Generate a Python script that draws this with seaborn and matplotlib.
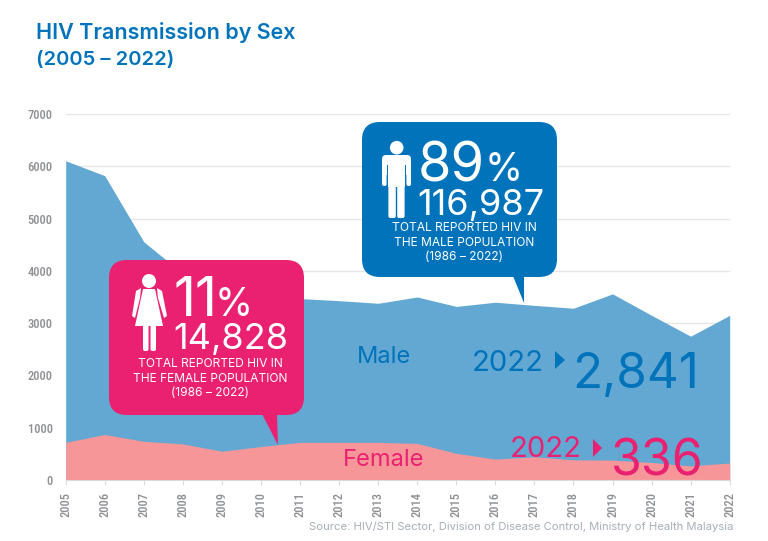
import seaborn as sns
import matplotlib.pyplot as plt
import pandas as pd
from matplotlib.patches import FancyBboxPatch, Polygon, Circle, Rectangle

years = list(range(2005, 2023))
male = [6105, 5820, 4555, 3950, 3620, 3500, 3470, 3430, 3380, 3500, 3320, 3400, 3340, 3285, 3560, 3150, 2750, 3150]
female = [720, 870, 740, 690, 550, 640, 720, 720, 720, 700, 510, 400, 445, 385, 380, 335, 270, 325]
y_ticks = [0, 1000, 2000, 3000, 4000, 5000, 6000, 7000]

BLUE = '#0073BB'
PINK = '#EA2170'
MALE_FILL = '#62A8D3'
FEMALE_FILL = '#F69699'
TICK = '#8E9093'

df = pd.DataFrame({'year': years, 'male': male, 'female': female})

sns.set_style('white')
plt.rcParams['font.family'] = ['Inter', 'DejaVu Sans']

fig = plt.figure(figsize=(7.68, 5.41), dpi=100)
ax = fig.add_axes([65.7 / 768, 61 / 541, 664 / 768, 366 / 541])

sns.lineplot(data=df, x='year', y='male', color=MALE_FILL, linewidth=0, ax=ax)
sns.lineplot(data=df, x='year', y='female', color=FEMALE_FILL, linewidth=0, ax=ax)
ax.fill_between(df['year'], df['male'], color=MALE_FILL, linewidth=0, zorder=2)
ax.fill_between(df['year'], df['female'], color=FEMALE_FILL, linewidth=0, zorder=3)

ax.set_xlim(2005, 2022)
ax.set_ylim(0, 7000)
ax.set_xticks(years)
ax.set_yticks(y_ticks)
ax.set_xlabel('')
ax.set_ylabel('')
ax.grid(axis='y', color='#E6E7E8', linewidth=1)
ax.set_axisbelow(True)
sns.despine(ax=ax, left=True)
ax.spines['bottom'].set_color('#DADBDD')
ax.spines['bottom'].set_zorder(5)
ax.tick_params(axis='x', bottom=True, length=3.6, width=0.8, color='#DADBDD', pad=5)
ax.tick_params(axis='y', left=False, pad=6)
for t in ax.get_xticklabels():
    t.set(rotation=90, fontsize=9, color=TICK, family='Roboto Condensed', fontweight=500)
for t in ax.get_yticklabels():
    t.set(fontsize=9, color=TICK, family='Roboto Condensed', fontweight=500)

# overlay in pixel coordinates for the callouts
ov = fig.add_axes([0, 0, 1, 1], zorder=10)
ov.set_xlim(0, 768)
ov.set_ylim(541, 0)
ov.axis('off')
ov.patch.set_alpha(0)


def callout(x0, y0, x1, y1, tail, color):
    ov.add_patch(FancyBboxPatch((x0 + 18, y0 + 18), x1 - x0 - 36, y1 - y0 - 36,
                                boxstyle='round,pad=18,rounding_size=18', fc=color, ec='none'))
    ov.add_patch(Polygon(tail, fc=color, ec='none'))


def limb(x, y, w, h):
    ov.add_patch(FancyBboxPatch((x, y), w, h, boxstyle='round,pad=0,rounding_size=2', fc='white', ec='none'))


callout(362, 122, 557, 277, [(513, 276), (524, 276), (524, 303)], BLUE)
callout(109, 260, 304, 415, [(262, 414), (277, 414), (278, 445)], PINK)

# man icon
ov.add_patch(Circle((396.7, 147.7), 6.8, fc='white', ec='none'))
ov.add_patch(FancyBboxPatch((382, 155), 29, 20, boxstyle='round,pad=0,rounding_size=4', fc='white', ec='none'))
limb(382, 165, 4.6, 21)
limb(406.4, 165, 4.6, 21)
ov.add_patch(Rectangle((386.6, 165), 1.8, 12, fc=BLUE, ec='none'))
ov.add_patch(Rectangle((404.6, 165), 1.8, 12, fc=BLUE, ec='none'))
ov.add_patch(Rectangle((388.4, 165), 16.2, 22, fc='white', ec='none'))
limb(388.4, 183, 7.4, 35)
limb(397.2, 183, 7.4, 35)

# woman icon
ov.add_patch(Circle((149, 281), 7, fc='white', ec='none'))
ov.add_patch(Polygon([(143, 289), (155, 289), (163, 326), (135, 326)], fc='white', ec='none'))
ov.add_patch(Polygon([(141, 288), (136, 291), (132, 316), (135, 318), (140, 298)], fc='white', ec='none'))
ov.add_patch(Polygon([(157, 288), (162, 291), (167, 316), (164, 318), (158, 298)], fc='white', ec='none'))
limb(143, 322, 5.5, 29)
limb(150.5, 322, 5.5, 29)

# titles and callout text
ov.text(36, 39, 'HIV Transmission by Sex', color=BLUE, fontsize=15.5, fontweight='semibold')
ov.text(36, 65, '(2005 – 2022)', color=BLUE, fontsize=14.5, fontweight='semibold')

ov.text(418, 181, '89', color='white', fontsize=39)
ov.text(485, 181, '%', color='white', fontsize=28)
ov.text(417, 215, '116,987', color='white', fontsize=26)
for yy, s in zip([228, 243, 257], ['TOTAL REPORTED HIV IN', 'THE MALE POPULATION', '(1986 – 2022)']):
    ov.text(464, yy, s, color='white', fontsize=8.6, ha='center', va='center')

ov.text(173, 316, '11', color='white', fontsize=39)
ov.text(215, 316, '%', color='white', fontsize=28)
ov.text(173, 349, '14,828', color='white', fontsize=26)
for yy, s in zip([364, 379, 393], ['TOTAL REPORTED HIV IN', 'THE FEMALE POPULATION', '(1986 – 2022)']):
    ov.text(210, yy, s, color='white', fontsize=8.6, ha='center', va='center')

# labels on the areas
ov.text(357, 363, 'Male', color=BLUE, fontsize=17)
ov.text(343, 466, 'Female', color=PINK, fontsize=17)
ov.text(472, 371, '2022', color=BLUE, fontsize=21)
ov.add_patch(Polygon([(555, 351), (565, 360), (555, 369)], fc=BLUE, ec='none'))
ov.text(572, 388, '2,841', color=BLUE, fontsize=35.5)
ov.text(510, 457, '2022', color=PINK, fontsize=21)
ov.add_patch(Polygon([(593, 439), (602, 448), (593, 457)], fc=PINK, ec='none'))
ov.text(611, 475, '336', color=PINK, fontsize=36)

ov.text(733, 527, 'Source: HIV/STI Sector, Division of Disease Control, Ministry of Health Malaysia',
        color='#A7AFB8', fontsize=8.1, ha='right', va='center')

fig.savefig('out.png', dpi=100)
